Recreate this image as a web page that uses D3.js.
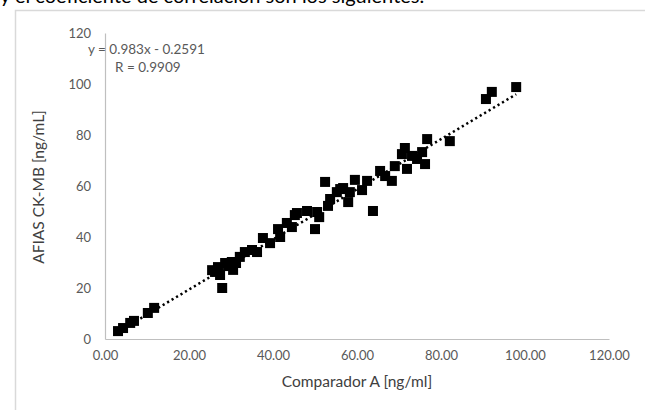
<!DOCTYPE html>
<html>
<head>
<meta charset="utf-8">
<script src="https://cdn.jsdelivr.net/npm/d3@7"></script>
<style>
  body { margin: 0; background: #fff; }
  svg { display: block; font-family: Lato, "Liberation Sans", sans-serif; }
</style>
</head>
<body>
<svg id="chart" width="645" height="410"></svg>
<script>
// comparator A values (x) and AFIAS CK-MB values (y)
var comparador = [3.1, 4.3, 6.0, 6.9, 10.2, 11.7,
  25.5, 26.2, 26.9, 27.4, 27.9, 28.6, 29.3, 30.2, 30.5, 31.2, 32.1, 33.3, 35.0, 36.2,
  37.6, 39.3, 41.2, 41.7, 43.3, 44.5, 45.7,
  45.2, 48.1, 50.0, 50.5, 51.0, 52.4, 53.1, 53.6, 55.2, 56.0, 56.7, 57.9, 58.3, 59.5,
  61.2, 62.4, 63.8, 65.5, 66.7,
  68.3, 69.0, 70.7, 71.4, 71.9, 73.1, 74.3, 75.5, 76.2, 76.7, 82.1,
  90.7, 92.1, 97.9];
var afias = [3.1, 4.3, 6.3, 7.1, 10.2, 12.2,
  27.0, 26.3, 28.2, 25.1, 20.0, 29.8, 28.6, 30.2, 27.1, 29.8, 32.2, 34.1, 34.9, 34.1,
  39.6, 37.6, 43.1, 40.0, 45.5, 43.9, 49.4,
  48.6, 50.2, 43.1, 49.8, 47.8, 61.6, 52.2, 54.9, 57.6, 58.8, 59.2, 53.7, 57.6, 62.4,
  58.4, 62.0, 50.2, 65.9, 63.9,
  62.0, 67.8, 72.5, 74.9, 66.7, 71.8, 70.6, 73.3, 68.6, 78.4, 77.6,
  94.1, 96.9, 98.8];

var xTicks = [0, 20, 40, 60, 80, 100, 120];
var yTicks = [0, 20, 40, 60, 80, 100, 120];
var slope = 0.983, intercept = -0.2591, rValue = 0.9909;

var svg = d3.select("#chart");

// page text cut at the top and the chart frame
svg.append("text").attr("x", 0).attr("y", 3)
  .attr("font-size", 20).attr("fill", "#000")
  .text("y el coeficiente de correlación son los siguientes.");
svg.append("path").attr("d", "M15.5,410V10.5H645")
  .attr("fill", "none").attr("stroke", "#d9d9d9").attr("stroke-width", 1.5);

var x = d3.scaleLinear().domain([0, 120]).range([105, 609]);
var y = d3.scaleLinear().domain([0, 120]).range([339, 33]);

var xAxis = svg.append("g").attr("transform", "translate(0,339)")
  .call(d3.axisBottom(x).tickValues(xTicks).tickSize(0).tickPadding(12).tickFormat(d3.format(".2f")));
var yAxis = svg.append("g").attr("transform", "translate(105,0)")
  .call(d3.axisLeft(y).tickValues(yTicks).tickSize(0).tickPadding(14));

[xAxis, yAxis].forEach(function(a) {
  a.select(".domain").attr("stroke", "#bfbfbf").attr("stroke-width", 1.2);
  a.selectAll("text").attr("fill", "#595959").attr("font-size", 13)
    .attr("font-family", "Lato, sans-serif");
});

svg.append("text").attr("x", 357).attr("y", 387).attr("text-anchor", "middle")
  .attr("font-size", 15.5).attr("fill", "#404040").text("Comparador A [ng/ml]");
svg.append("text").attr("transform", "translate(44,187) rotate(-90)")
  .attr("text-anchor", "middle").attr("font-size", 15.5).attr("fill", "#404040")
  .text("AFIAS CK-MB [ng/mL]");

// points
svg.append("g").selectAll("rect")
  .data(comparador.map(function(d, i) { return [d, afias[i]]; }))
  .enter().append("rect")
  .attr("x", function(d) { return x(d[0]) - 5; })
  .attr("y", function(d) { return y(d[1]) - 5; })
  .attr("width", 10).attr("height", 10)
  .attr("fill", "#000");

// linear trendline
var xr = d3.extent(comparador);
svg.append("line")
  .attr("x1", x(xr[0])).attr("y1", y(slope * xr[0] + intercept))
  .attr("x2", x(xr[1])).attr("y2", y(slope * xr[1] + intercept))
  .attr("stroke", "#000").attr("stroke-width", 2.5)
  .attr("stroke-dasharray", "2.2 3");

svg.append("text").attr("x", 88).attr("y", 54)
  .attr("font-size", 13.5).attr("fill", "#595959")
  .text("y = " + slope + "x - " + Math.abs(intercept));
svg.append("text").attr("x", 115).attr("y", 72)
  .attr("font-size", 13.5).attr("fill", "#595959")
  .text("R = " + rValue);
</script>
</body>
</html>
